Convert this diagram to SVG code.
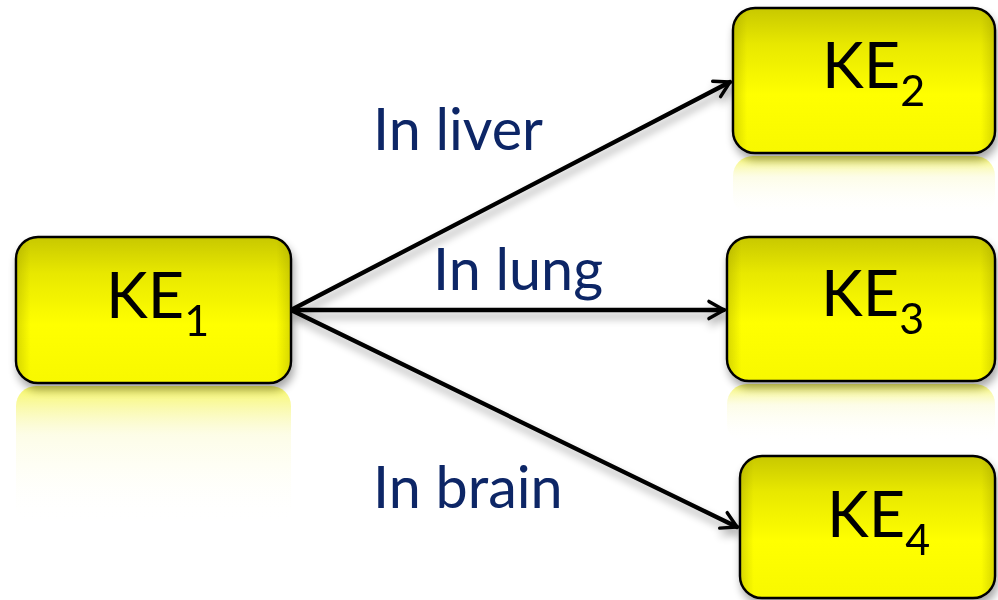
<svg xmlns="http://www.w3.org/2000/svg" width="998" height="600" viewBox="0 0 998 600">
  <defs>
    <linearGradient id="fillY" x1="0" y1="0" x2="0" y2="1">
      <stop offset="0" stop-color="#c8c800"/>
      <stop offset="0.25" stop-color="#e8e800"/>
      <stop offset="0.6" stop-color="#ffff00"/>
      <stop offset="1" stop-color="#f8f800"/>
    </linearGradient>
    <linearGradient id="edgeX" x1="0" y1="0" x2="1" y2="0">
      <stop offset="0" stop-color="#8a8a00" stop-opacity="0.3"/>
      <stop offset="0.05" stop-color="#8a8a00" stop-opacity="0"/>
      <stop offset="0.95" stop-color="#8a8a00" stop-opacity="0"/>
      <stop offset="1" stop-color="#8a8a00" stop-opacity="0.3"/>
    </linearGradient>
    <linearGradient id="refl" x1="0" y1="0" x2="0" y2="1">
      <stop offset="0" stop-color="#f2f200" stop-opacity="0.6"/>
      <stop offset="0.35" stop-color="#f6f6a0" stop-opacity="0.25"/>
      <stop offset="1" stop-color="#ffffff" stop-opacity="0"/>
    </linearGradient>
    <filter id="shadow" x="-10%" y="-10%" width="120%" height="130%">
      <feGaussianBlur in="SourceAlpha" stdDeviation="4"/>
      <feOffset dx="2" dy="6"/>
      <feComponentTransfer><feFuncA type="linear" slope="0.35"/></feComponentTransfer>
      <feMerge><feMergeNode/><feMergeNode in="SourceGraphic"/></feMerge>
    </filter>
    <marker id="arrow" viewBox="0 0 20 20" refX="17" refY="10" markerWidth="5" markerHeight="5" orient="auto" markerUnits="strokeWidth">
      <path d="M3,2 L17,10 L3,18" fill="none" stroke="#000" stroke-width="3.2" stroke-linecap="round" stroke-linejoin="round"/>
    </marker>
  </defs>
  <style>
    .box { fill: url(#fillY); stroke: #000; stroke-width: 2.5; }
    .edge { fill: url(#edgeX); }
    .reflection { fill: url(#refl); }
    .ke { font-family: Lato, "Liberation Sans", sans-serif; font-size: 63px; fill: #000; }
    .sub { font-size: 43px; }
    .label { font-family: Lato, "Liberation Sans", sans-serif; font-size: 57.5px; fill: #0d2666; }
    .conn { fill: none; stroke: #000; stroke-width: 4.3; stroke-linecap: round; marker-end: url(#arrow); }
  </style>

  <!-- mirrored reflections beneath the boxes -->
  <g id="reflections">
    <rect class="reflection" x="16" y="386" width="275" height="140" rx="20"/>
    <rect class="reflection" x="733" y="156" width="262" height="60" rx="20"/>
    <rect class="reflection" x="727" y="384" width="268" height="60" rx="20"/>
  </g>

  <!-- connectors -->
  <g id="connectors" filter="url(#shadow)">
    <line class="conn" x1="291" y1="310" x2="730" y2="82"/>
    <line class="conn" x1="291" y1="310" x2="724" y2="310"/>
    <line class="conn" x1="291" y1="310" x2="737" y2="527"/>
  </g>

  <g id="labels">
    <text class="label" x="373" y="150">In liver</text>
    <text class="label" x="433" y="290">In lung</text>
    <text class="label" x="373" y="508">In brain</text>
  </g>

  <g id="ke1" filter="url(#shadow)">
    <rect class="box" x="16" y="237" width="275" height="146" rx="22"/>
    <rect class="edge" x="17" y="238" width="273" height="144" rx="21"/>
    <text class="ke" x="106" y="318">KE<tspan class="sub" dy="18">1</tspan></text>
  </g>

  <g id="ke2" filter="url(#shadow)">
    <rect class="box" x="733" y="8" width="262" height="145" rx="22"/>
    <rect class="edge" x="734" y="9" width="260" height="143" rx="21"/>
    <text class="ke" x="822" y="88">KE<tspan class="sub" dy="18">2</tspan></text>
  </g>

  <g id="ke3" filter="url(#shadow)">
    <rect class="box" x="727" y="237" width="268" height="144" rx="22"/>
    <rect class="edge" x="728" y="238" width="266" height="142" rx="21"/>
    <text class="ke" x="821" y="316">KE<tspan class="sub" dy="18">3</tspan></text>
  </g>

  <g id="ke4" filter="url(#shadow)">
    <rect class="box" x="740" y="456" width="255" height="142" rx="22"/>
    <rect class="edge" x="741" y="457" width="253" height="140" rx="21"/>
    <text class="ke" x="827" y="537">KE<tspan class="sub" dy="18">4</tspan></text>
  </g>
</svg>
